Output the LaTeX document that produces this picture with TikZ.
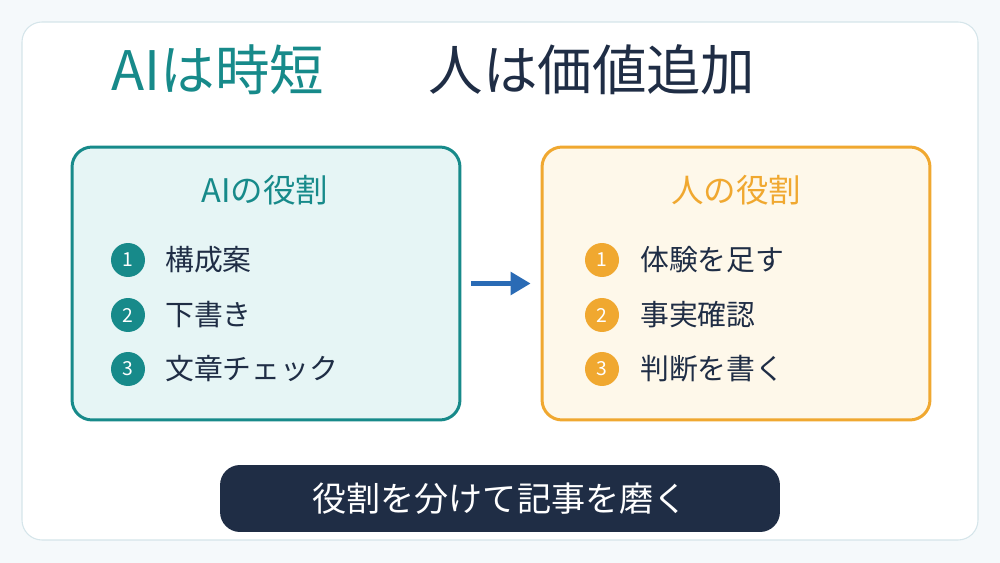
\documentclass[tikz,border=0pt]{standalone}
\usepackage{fontspec}
\setmainfont{Noto Sans CJK JP}
\usetikzlibrary{arrows.meta,positioning}
\definecolor{teal1}{HTML}{178A8A}
\definecolor{navy1}{HTML}{1F2D45}
\definecolor{orng1}{HTML}{F0A830}
\definecolor{blue1}{HTML}{2A6BB5}
\definecolor{bgc}{HTML}{F5F9FB}
\definecolor{bordc}{HTML}{D5E5EA}
\definecolor{tealbg}{HTML}{E6F5F5}
\definecolor{orngbg}{HTML}{FEF8EA}
\tikzset{
  card/.style={draw, line width=1.7pt, rounded corners=0.4cm, minimum width=7.76cm, minimum height=5.46cm},
  num/.style={circle, fill=#1, text=white, minimum size=0.68cm, inner sep=0pt, font=\fontsize{11}{11}\selectfont},
  item/.style={anchor=west, text=navy1, font=\fontsize{16.4}{16.4}\selectfont, inner sep=0pt}
}
\begin{document}
\begin{tikzpicture}[x=0.02cm,y=-0.02cm]
	% background
	\fill[bgc] (0,0) rectangle (1000,563);
	\filldraw[fill=white, draw=bordc, line width=0.6pt, rounded corners=0.4cm] (22,22) rectangle (978,540);

	% title
	\node[text=teal1, font=\fontsize{31}{31}\selectfont] (ttl1) at (218,70) {AIは時短};
	\node[text=navy1, font=\fontsize{31}{31}\selectfont] (ttl2) at (592,70) {人は価値追加};

	% cards
	\node[card, draw=teal1, fill=tealbg] (ai) at (266,283.5) {};
	\node[card, draw=orng1, fill=orngbg] (hu) at (736,283.5) {};
	\node[text=teal1, font=\fontsize{18.5}{18.5}\selectfont] (aihd) at (265,190) {AIの役割};
	\node[text=orng1, font=\fontsize{18.5}{18.5}\selectfont] (huhd) at (736,190) {人の役割};

	% items
	\foreach \i/\y/\t in {1/260/構成案, 2/315/下書き, 3/369/文章チェック} {
		\node[num=teal1] (an\i) at (128,\y) {\i};
		\node[item] (at\i) at (165,\y) {\t};
	}
	\foreach \i/\y/\t in {1/260/体験を足す, 2/315/事実確認, 3/369/判断を書く} {
		\node[num=orng1] (hn\i) at (602,\y) {\i};
		\node[item] (ht\i) at (640,\y) {\t};
	}

	% arrow
	\draw[blue1, line width=2.5pt, -{Triangle[length=0.4cm,width=0.45cm]}, shorten <=0.2cm, shorten >=0.2cm] (ai.east) -- (hu.west);

	% footer
	\node[fill=navy1, rounded corners=0.4cm, minimum width=11.2cm, minimum height=1.34cm, text=white, font=\fontsize{19.4}{19.4}\selectfont] (foot) at (500,498.5) {役割を分けて記事を磨く};
\end{tikzpicture}
\end{document}
